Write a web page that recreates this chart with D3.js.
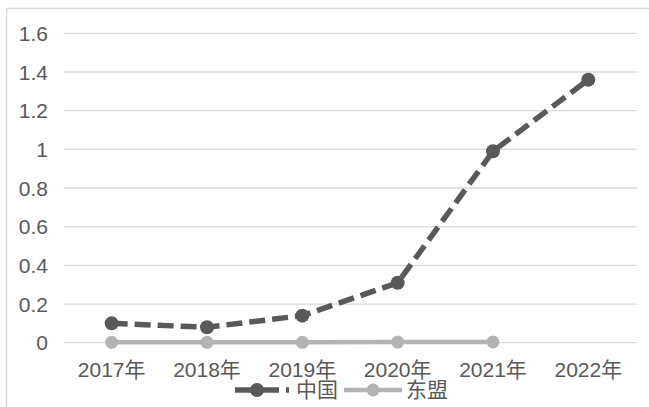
<!DOCTYPE html>
<html>
<head>
<meta charset="utf-8">
<script src="https://cdn.jsdelivr.net/npm/d3@7"></script>
<style>
  body { margin: 0; background: #fff; }
  text { font-family: "Liberation Sans", "Noto Sans CJK SC", sans-serif; fill: #595959; }
</style>
</head>
<body>
<svg id="chart" width="649" height="407"></svg>
<script>
// data
const years = ["2017年", "2018年", "2019年", "2020年", "2021年", "2022年"];
const china = [0.10, 0.08, 0.14, 0.31, 0.99, 1.36];
const asean = [0.002, 0.002, 0.002, 0.003, 0.004];
const yTicks = [0, 0.2, 0.4, 0.6, 0.8, 1, 1.2, 1.4, 1.6];
const seriesNames = ["中国", "东盟"];

const svg = d3.select("#chart");

// outer chart-area border (cut off at right and bottom)
svg.append("rect")
    .attr("x", 6.5).attr("y", 8.5)
    .attr("width", 700).attr("height", 450)
    .attr("fill", "#fff")
    .attr("stroke", "#d9d9d9")
    .attr("stroke-width", 1.5);

let x = d3.scaleBand()
    .domain(years)
    .range([64, 636]);

let y = d3.scaleLinear()
    .domain([0, 1.6])
    .range([342.7, 33.3]);

// gridlines
svg.append("g").selectAll("line")
    .data(yTicks)
    .enter()
    .append("line")
    .attr("x1", 64).attr("x2", 637)
    .attr("y1", d => y(d)).attr("y2", d => y(d))
    .attr("stroke", "#d9d9d9")
    .attr("stroke-width", 1.3);

// y labels
svg.append("g").selectAll("text")
    .data(yTicks)
    .enter()
    .append("text")
    .attr("x", 48)
    .attr("y", d => y(d))
    .attr("dy", "0.36em")
    .attr("text-anchor", "end")
    .style("font-size", "21px")
    .text(d => d);

// x labels
svg.append("g").selectAll("text")
    .data(years)
    .enter()
    .append("text")
    .attr("x", d => x(d) + x.bandwidth() / 2)
    .attr("y", 377)
    .attr("text-anchor", "middle")
    .style("font-size", "21px")
    .text(d => d);

let cx = (d, i) => x(years[i]) + x.bandwidth() / 2;

let line = d3.line()
    .x(cx)
    .y(d => y(d));

// 东盟
svg.append("path")
    .attr("d", line(asean))
    .attr("fill", "none")
    .attr("stroke", "#b3b3b3")
    .attr("stroke-width", 4.5);

svg.append("g").selectAll("circle")
    .data(asean)
    .enter()
    .append("circle")
    .attr("cx", cx)
    .attr("cy", d => y(d))
    .attr("r", 6.5)
    .attr("fill", "#b3b3b3");

// 中国
svg.append("path")
    .attr("d", line(china))
    .attr("fill", "none")
    .attr("stroke", "#595959")
    .attr("stroke-width", 5.5)
    .attr("stroke-dasharray", "16,7");

svg.append("g").selectAll("circle")
    .data(china)
    .enter()
    .append("circle")
    .attr("cx", cx)
    .attr("cy", d => y(d))
    .attr("r", 7)
    .attr("fill", "#595959");

// legend
let legend = [
    { name: seriesNames[0], color: "#595959", x1: 235, x2: 289, dash: "44,7", w: 5.5, r: 7, tx: 296 },
    { name: seriesNames[1], color: "#b3b3b3", x1: 344, x2: 402, dash: null, w: 4.5, r: 6.5, tx: 406 }
];
let lg = svg.append("g").selectAll("g")
    .data(legend)
    .enter()
    .append("g");

lg.append("line")
    .attr("x1", d => d.x1).attr("x2", d => d.x2)
    .attr("y1", 390).attr("y2", 390)
    .attr("stroke", d => d.color)
    .attr("stroke-width", d => d.w)
    .attr("stroke-dasharray", d => d.dash);

lg.append("circle")
    .attr("cx", d => (d.x1 + (d.dash ? 279 : d.x2)) / 2)
    .attr("cy", 390)
    .attr("r", d => d.r)
    .attr("fill", d => d.color);

lg.append("text")
    .attr("x", d => d.tx)
    .attr("y", 397)
    .style("font-size", "21px")
    .text(d => d.name);
</script>
</body>
</html>
